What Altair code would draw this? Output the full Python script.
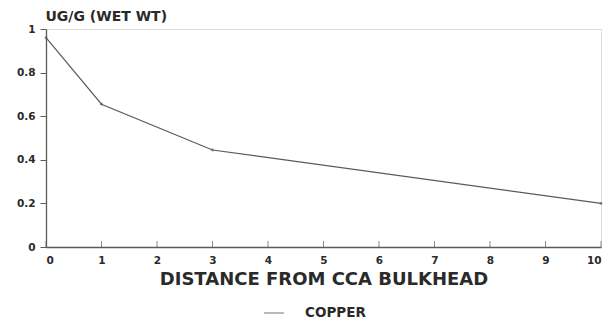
import altair as alt
import pandas as pd

distance = [0, 1, 3, 10]
copper = [0.96, 0.655, 0.445, 0.20]
series = ["COPPER"] * 4
x_ticks = list(range(11))
y_ticks = [0, 0.2, 0.4, 0.6, 0.8, 1]

df = pd.DataFrame({"distance": distance, "value": copper, "series": series})
tick_df = pd.DataFrame({"distance": x_ticks})

FONT = "DejaVu Sans"
GRAY = "#5a5a5a"
TXT = "#2a2a2a"

xscale = alt.Scale(domain=[0, 10], nice=False)
yscale = alt.Scale(domain=[0, 1], nice=False)

base = alt.Chart(df).encode(
    x=alt.X("distance:Q", scale=xscale,
            axis=alt.Axis(title="DISTANCE FROM CCA BULKHEAD", values=x_ticks,
                          grid=False, ticks=False, labelPadding=8,
                          labelFont=FONT, labelFontSize=10.5, labelFontWeight="bold", labelColor=TXT,
                          titleFont=FONT, titleFontSize=18, titleFontWeight="bold", titleColor=TXT,
                          titlePadding=5, domainColor=GRAY, domainWidth=1.3)),
    y=alt.Y("value:Q", scale=yscale,
            axis=alt.Axis(title="UG/G (WET WT)", values=y_ticks,
                          format="~g", grid=False, tickSize=6, labelPadding=5,
                          labelFont=FONT, labelFontSize=10.5, labelFontWeight="bold", labelColor=TXT,
                          titleFont=FONT, titleFontSize=14, titleFontWeight="bold", titleColor=TXT,
                          titleAngle=0, titleAlign="left", titleBaseline="alphabetic",
                          titleX=-1, titleY=-9,
                          domainColor=GRAY, tickColor=GRAY, domainWidth=1.3)),
    color=alt.Color("series:N", scale=alt.Scale(range=[GRAY]),
                    legend=alt.Legend(title=None, orient="none", legendX=217, legendY=273,
                                      symbolType="stroke", symbolSize=400, symbolStrokeWidth=1.2,
                                      labelOffset=20,
                                      labelFont=FONT, labelFontSize=13.5, labelFontWeight="bold",
                                      labelColor=TXT)),
)

line = base.mark_line(strokeWidth=1.2)
pts = base.mark_point(filled=True, size=8)

xticks = alt.Chart(tick_df).mark_tick(color=GRAY, size=6, thickness=1, yOffset=-3).encode(
    x=alt.X("distance:Q", scale=xscale),
    y=alt.datum(0, scale=yscale),
)

chart = (line + pts + xticks).properties(
    width=555, height=218,
    autosize=alt.AutoSizeParams(type="none"),
    padding={"left": 46, "top": 29, "right": 11, "bottom": 76},
).configure_view(stroke=None).configure(background="white")

chart.save("out.html", embed_options={"renderer": "svg", "actions": False})
